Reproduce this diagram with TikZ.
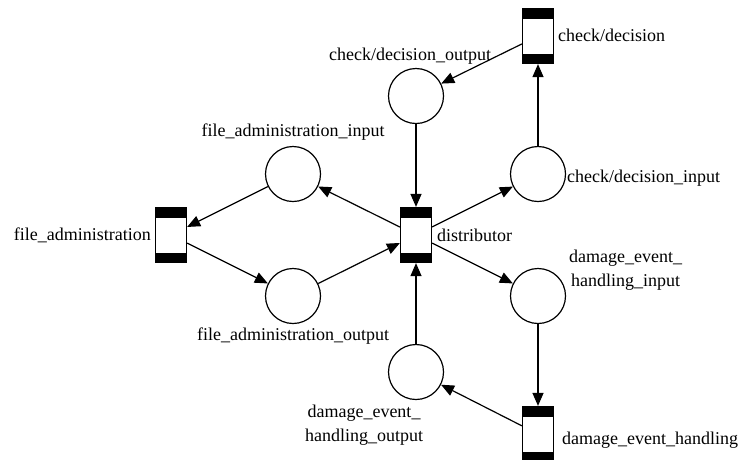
\documentclass[tikz,border=0pt]{standalone}
\usepackage{fontspec}
\setmainfont{Liberation Serif}
\usetikzlibrary{arrows.meta,positioning}

\begin{document}
\begin{tikzpicture}[x=1pt, y=-1pt, font=\fontsize{18}{24}\selectfont,
  >={Triangle[length=13pt,width=11pt]},
  place/.style={circle, draw, line width=1.2pt, minimum size=55pt, inner sep=0pt},
  trans/.style={rectangle, draw, line width=1.2pt, fill=white, inner sep=0pt,
                minimum width=31pt, minimum height=55pt,
                path picture={
                  \fill[black] (path picture bounding box.north west) rectangle
                        ([yshift=-10pt]path picture bounding box.north east);
                  \fill[black] ([yshift=10pt]path picture bounding box.south west) rectangle
                        (path picture bounding box.south east);}},
  arc/.style={->, line width=1.2pt},
  lbl/.style={inner sep=1pt, align=center}]
  \useasboundingbox (0,0) rectangle (743,459);
  % transitions
  \node[trans] (dist) at (416,235) {};
  \node[trans] (fa)   at (171,235) {};
  \node[trans] (cd)   at (538,36)  {};
  \node[trans] (deh)  at (538,434) {};
  % places
  \node[place] (fai)  at (293,174) {};
  \node[place] (fao)  at (293,296) {};
  \node[place] (cdo)  at (416,96)  {};
  \node[place] (cdi)  at (538,174) {};
  \node[place] (dehi) at (538,296) {};
  \node[place] (deho) at (416,372) {};
  % labels
  \node[lbl, anchor=east] (fa-l)   at (152,235) {file\_administration};
  \node[lbl, anchor=west] (dist-l) at (436,235) {distributor};
  \node[lbl, anchor=west] (cd-l)   at (557,35)  {check/decision};
  \node[lbl, anchor=west] (deh-l)  at (561,440) {damage\_event\_handling};
  \node[lbl] (cdo-l)  at (410,56)  {check/decision\_output};
  \node[lbl] (fai-l)  at (293,132) {file\_administration\_input};
  \node[lbl] (fao-l)  at (293,336) {file\_administration\_output};
  \node[lbl, anchor=west] (cdi-l)  at (566,178) {check/decision\_input};
  \node[lbl, anchor=west] (dehi-l) at (568,270) {damage\_event\_\\handling\_input};
  \node[lbl] (deho-l) at (364,425) {damage\_event\_\\handling\_output};
  % arcs
  \draw[arc] (dist) -- (fai);
  \draw[arc] (fai) -- (fa);
  \draw[arc] (fa) -- (fao);
  \draw[arc] (fao) -- (dist);
  \draw[arc] (dist) -- (cdi);
  \draw[arc] (cdi) -- (cd);
  \draw[arc] (cd) -- (cdo);
  \draw[arc] (cdo) -- (dist);
  \draw[arc] (dist) -- (dehi);
  \draw[arc] (dehi) -- (deh);
  \draw[arc] (deh) -- (deho);
  \draw[arc] (deho) -- (dist);
\end{tikzpicture}
\end{document}
